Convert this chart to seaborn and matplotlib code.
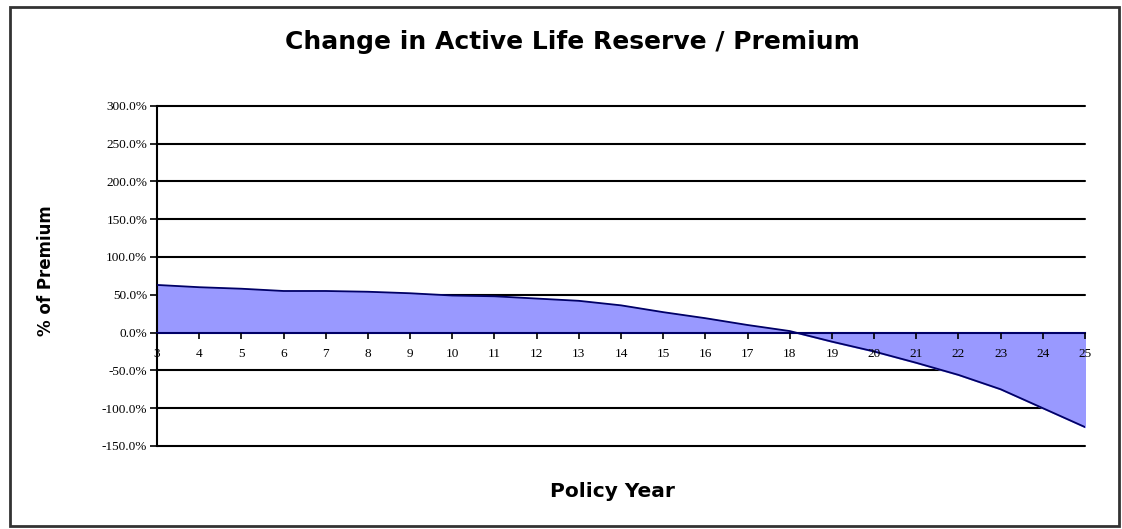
import numpy as np
import pandas as pd
import seaborn as sns
import matplotlib.pyplot as plt
from matplotlib.patches import Rectangle
from matplotlib.ticker import FuncFormatter

# policy years and change in active life reserve as % of premium
years = list(range(3, 26))
pct_premium = [63, 60, 58, 55, 55, 54, 52, 49, 48, 45, 42, 36, 27, 19, 10, 2,
               -12, -25, -40, -56, -75, -100, -125]
ytick_vals = [-150, -100, -50, 0, 50, 100, 150, 200, 250, 300]

df = pd.DataFrame({"year": years, "pct": pct_premium})

sns.set_style("white")
plt.rcParams['font.family'] = ['DejaVu Sans']
plt.rcParams['text.color'] = 'black'
plt.rcParams['axes.labelcolor'] = 'black'
plt.rcParams['xtick.color'] = 'black'
plt.rcParams['ytick.color'] = 'black'

fig = plt.figure(figsize=(11.22, 5.29), dpi=100)
ax = fig.add_axes([0.140, 0.157, 0.827, 0.643])

# outer chart frame
fig.patches.append(Rectangle((10 / 1122, 3 / 529), 1109 / 1122, 519 / 529,
                             transform=fig.transFigure, fill=False,
                             edgecolor='#333333', linewidth=2))

for v in ytick_vals:
    if v != 0:
        ax.axhline(v, color='black', linewidth=1.5, zorder=1, clip_on=False)

ax.fill_between(df["year"], df["pct"], 0, color='#9999FF', zorder=2)
sns.lineplot(data=df, x="year", y="pct", color='#000066', linewidth=1.3, ax=ax, zorder=3)

ax.set_xlim(3, 25)
ax.set_ylim(-150, 300)
ax.set_yticks(ytick_vals)
ax.yaxis.set_major_formatter(FuncFormatter(lambda v, p: f"{v:.1f}%"))
ax.set_xticks(years)
ax.set_xticklabels([str(y) for y in years])

ax.spines['top'].set_visible(False)
ax.spines['right'].set_visible(False)
ax.spines['left'].set_linewidth(1.5)
ax.spines['left'].set_color('black')
ax.spines['bottom'].set_position(('data', 0))
ax.spines['bottom'].set_linewidth(1.5)
ax.spines['bottom'].set_color('#000066')
ax.spines['bottom'].set_zorder(4)
ax.xaxis.set_zorder(5)

ax.tick_params(axis='y', left=True, length=5, width=1.2, labelsize=9.5, pad=2)
ax.tick_params(axis='x', bottom=True, length=4, width=1.2, labelsize=9.5, pad=7)
for lab in ax.get_xticklabels() + ax.get_yticklabels():
    lab.set_family('Liberation Serif')

ax.set_xlabel("Policy Year", fontsize=14.5, fontweight='bold')
ax.set_ylabel("% of Premium", fontsize=12, fontweight='bold')
ax.xaxis.set_label_coords(612 / 1122, 47 / 529, transform=fig.transFigure)
ax.yaxis.set_label_coords(55 / 1122, 258 / 529, transform=fig.transFigure)

fig.text(572 / 1122, 1 - 42 / 529, "Change in Active Life Reserve / Premium",
         ha='center', va='center', fontsize=18, fontweight='bold')

fig.savefig("out.png", dpi=100, facecolor='white')
